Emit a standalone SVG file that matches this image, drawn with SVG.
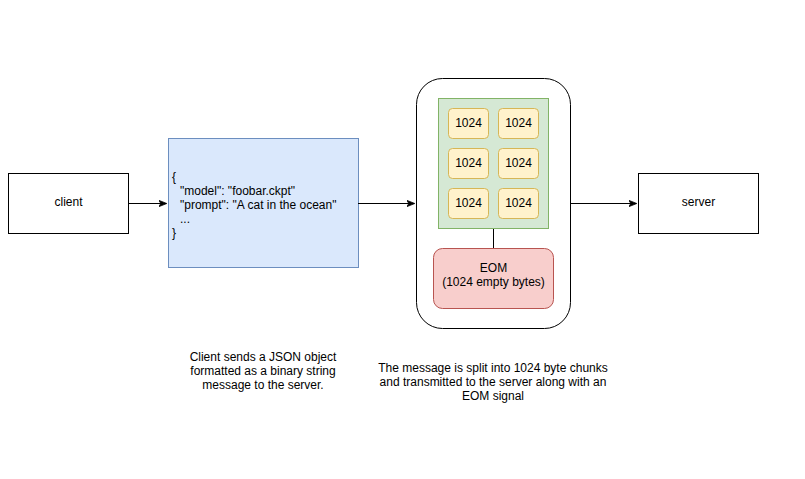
<svg xmlns="http://www.w3.org/2000/svg" width="805" height="479" viewBox="0 0 805 479">
<style>
text{font-family:"Liberation Sans",Arial,sans-serif;font-size:12px;fill:#000}
.c{text-anchor:middle}
.box{fill:#fff;stroke:#000;stroke-width:1}
.chunk{fill:#fff2cc;stroke:#d6b656;stroke-width:1}
.edge{fill:none;stroke:#000;stroke-width:1}
</style>
<defs>
<marker id="arr" viewBox="0 0 10 10" refX="9" refY="5" markerWidth="8" markerHeight="8" markerUnits="userSpaceOnUse" orient="auto">
<path d="M0,1 L10,5 L0,9 L2.5,5 Z" fill="#000" stroke="#000"/>
</marker>
</defs>
<rect width="805" height="479" fill="#fff"/>
<g id="client">
<rect class="box" x="8.5" y="173.5" width="120" height="60"/>
<text class="c" x="68.5" y="206">client</text>
</g>
<g id="json">
<rect x="168.5" y="138.5" width="190" height="129" fill="#dae8fc" stroke="#6c8ebf"/>
<text x="172" y="181">{</text>
<text x="180" y="195">"model": "foobar.ckpt"</text>
<text x="180" y="209">"prompt": "A cat in the ocean"</text>
<text x="180" y="223">...</text>
<text x="172" y="237">}</text>
</g>
<g id="message">
<rect class="box" x="416.5" y="78.5" width="154" height="250" rx="26" ry="26"/>
</g>
<g id="chunks">
<rect x="438.5" y="98.5" width="110" height="130" fill="#d5e8d4" stroke="#82b366"/>
</g>
<g id="chunk1"><rect class="chunk" x="448.5" y="108.5" width="40" height="30" rx="4"/><text class="c" x="468.5" y="126.5">1024</text></g>
<g id="chunk2"><rect class="chunk" x="498.5" y="108.5" width="40" height="30" rx="4"/><text class="c" x="518.5" y="126.5">1024</text></g>
<g id="chunk3"><rect class="chunk" x="448.5" y="148.5" width="40" height="30" rx="4"/><text class="c" x="468.5" y="166.5">1024</text></g>
<g id="chunk4"><rect class="chunk" x="498.5" y="148.5" width="40" height="30" rx="4"/><text class="c" x="518.5" y="166.5">1024</text></g>
<g id="chunk5"><rect class="chunk" x="448.5" y="188.5" width="40" height="30" rx="4"/><text class="c" x="468.5" y="206.5">1024</text></g>
<g id="chunk6"><rect class="chunk" x="498.5" y="188.5" width="40" height="30" rx="4"/><text class="c" x="518.5" y="206.5">1024</text></g>
<g id="eom">
<rect x="433.5" y="248.5" width="120" height="60" rx="9" fill="#f8cecc" stroke="#b85450"/>
<text class="c" x="493.5" y="272">EOM</text>
<text class="c" x="493.5" y="286">(1024 empty bytes)</text>
</g>
<g id="server">
<rect class="box" x="638.5" y="173.5" width="120" height="60"/>
<text class="c" x="698.5" y="206">server</text>
</g>
<g id="note1">
<text class="c" x="263" y="361">Client sends a JSON object</text>
<text class="c" x="263" y="375">formatted as a binary string</text>
<text class="c" x="263" y="389">message to the server.</text>
</g>
<g id="note2">
<text class="c" x="493" y="372">The message is split into 1024 byte chunks</text>
<text class="c" x="493" y="386">and transmitted to the server along with an</text>
<text class="c" x="493" y="400">EOM signal</text>
</g>
<g id="connectors">
<line class="edge" x1="128" y1="203.5" x2="166" y2="203.5" marker-end="url(#arr)"/>
<line class="edge" x1="358" y1="203.5" x2="414" y2="203.5" marker-end="url(#arr)"/>
<line class="edge" x1="571" y1="203.5" x2="636" y2="203.5" marker-end="url(#arr)"/>
<line class="edge" x1="493.5" y1="229" x2="493.5" y2="248"/>
</g>
</svg>
